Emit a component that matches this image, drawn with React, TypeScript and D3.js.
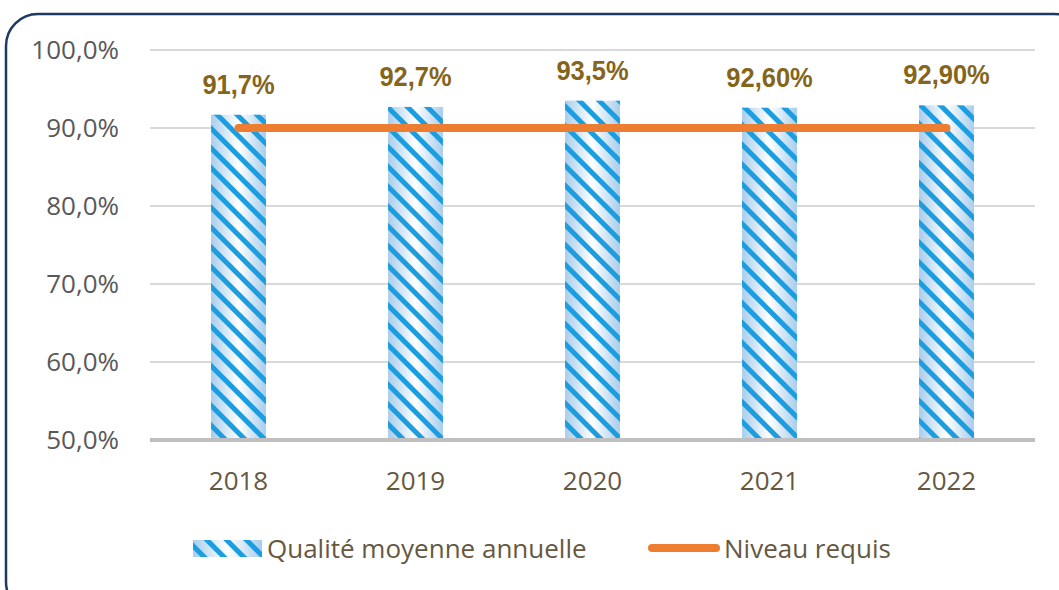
import React from "react";
import * as d3 from "d3";

const years = ["2018", "2019", "2020", "2021", "2022"];
const quality = [91.7, 92.7, 93.5, 92.6, 92.9];
const qualityLabels = ["91,7%", "92,7%", "93,5%", "92,60%", "92,90%"];
const required = [90, 90, 90, 90, 90];
const yTicks = [50, 60, 70, 80, 90, 100];
const legendNames = ["Qualité moyenne annuelle", "Niveau requis"];

const W = 1059;
const H = 590;
const plotLeft = 150;
const plotRight = 1035;
const plotTop = 50;
const plotBottom = 440;

export default function App() {
  const x = d3.scaleBand<string>().domain(years).range([plotLeft, plotRight]).paddingInner(0.69).paddingOuter(0.345);
  const y = d3.scaleLinear().domain([50, 100]).range([plotBottom, plotTop]);
  const bw = x.bandwidth();
  const cx = (d: string) => (x(d) as number) + bw / 2;
  const line = d3
    .line<number>()
    .x((_, i) => cx(years[i]))
    .y((d) => y(d));
  const tickFmt = (v: number) => v.toFixed(1).replace(".", ",") + "%";
  const textFont = "'Open Sans', 'DejaVu Sans', sans-serif";
  const labelFont = "'Liberation Sans', Arial, sans-serif";
  const textColor = "#66583f";

  return (
    <svg
      width={W}
      height={H}
      style={{ position: "absolute", left: 0, top: 0, background: "#fff" }}
    >
      <defs>
        <linearGradient id="barGrad" x1="0" y1="0" x2="1" y2="0">
          <stop offset="0" stopColor="#a8cdec" />
          <stop offset="0.5" stopColor="#ffffff" />
          <stop offset="1" stopColor="#a8cdec" />
        </linearGradient>
        <pattern
          id="stripes"
          patternUnits="userSpaceOnUse"
          width="14"
          height="14"
          patternTransform="rotate(-45)"
        >
          <rect x="0" y="0" width="5" height="14" fill="#1b9de0" />
        </pattern>
      </defs>

      <rect x={6} y={14} width={1080} height={600} rx={32} ry={32} fill="#fff" stroke="#1f3864" strokeWidth={2.5} />

      {yTicks.slice(1).map((t) => (
        <line key={t} x1={plotLeft} x2={plotRight} y1={y(t)} y2={y(t)} stroke="#d9d9d9" strokeWidth={2} />
      ))}

      {yTicks.map((t) => (
        <text
          key={"l" + t}
          x={119}
          y={y(t)}
          dy="0.35em"
          textAnchor="end"
          fontFamily={textFont}
          fontSize={26}
          fill="#595959"
        >
          {tickFmt(t)}
        </text>
      ))}

      {years.map((yr, i) => (
        <g key={yr}>
          <rect x={x(yr)} y={y(quality[i])} width={bw} height={plotBottom - y(quality[i])} fill="url(#barGrad)" />
          <rect x={x(yr)} y={y(quality[i])} width={bw} height={plotBottom - y(quality[i])} fill="url(#stripes)" />
        </g>
      ))}

      <line x1={plotLeft} x2={plotRight} y1={plotBottom} y2={plotBottom} stroke="#bfbfbf" strokeWidth={4} />

      <path d={line(required) || ""} fill="none" stroke="#ed7d31" strokeWidth={8} strokeLinecap="round" />

      {years.map((yr, i) => (
        <g key={"v" + yr} transform={`translate(${cx(yr)},${y(quality[i]) - 21}) scale(0.91,1)`}>
          <text
            x={0}
            y={0}
            textAnchor="middle"
            fontFamily={labelFont}
            fontWeight="bold"
            fontSize={28}
            fill="#84651a"
          >
            {qualityLabels[i]}
          </text>
        </g>
      ))}

      {years.map((yr) => (
        <text
          key={"c" + yr}
          x={cx(yr)}
          y={plotBottom + 50}
          textAnchor="middle"
          fontFamily={textFont}
          fontSize={26}
          fill={textColor}
        >
          {yr}
        </text>
      ))}

      <g>
        <rect x={193} y={540} width={69} height={17} fill="url(#barGrad)" />
        <rect x={193} y={540} width={69} height={17} fill="url(#stripes)" />
        <text x={267} y={558} fontFamily={textFont} fontSize={26} fill={textColor}>
          {legendNames[0]}
        </text>
        <line x1={652} x2={716} y1={548} y2={548} stroke="#ed7d31" strokeWidth={8} strokeLinecap="round" />
        <text x={724} y={558} fontFamily={textFont} fontSize={26} fill={textColor}>
          {legendNames[1]}
        </text>
      </g>
    </svg>
  );
}
